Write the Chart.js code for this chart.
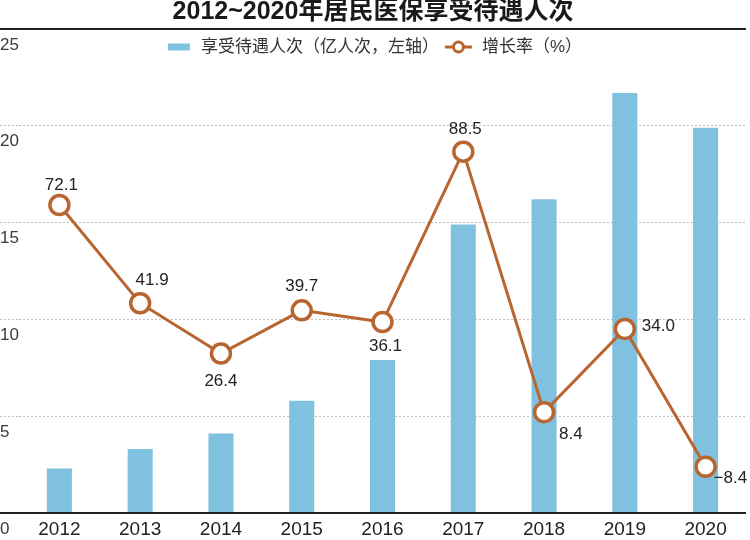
<!DOCTYPE html>
<html>
<head>
<meta charset="utf-8">
<script src="https://cdn.jsdelivr.net/npm/chart.js@4.4.1/dist/chart.umd.min.js"></script>
<style>
  body { margin: 0; background: #fff; }
  #wrap { width: 750px; height: 540px; position: relative; }
</style>
</head>
<body>
<div id="wrap"><canvas id="chart"></canvas></div>
<script>
// Data
const years = ['2012', '2013', '2014', '2015', '2016', '2017', '2018', '2019', '2020'];
const persons = [2.3, 3.3, 4.1, 5.8, 7.9, 14.9, 16.2, 21.7, 19.9]; // 亿人次, left axis
const growth = [72.1, 41.9, 26.4, 39.7, 36.1, 88.5, 8.4, 34.0, -8.4]; // %
const leftTicks = [0, 5, 10, 15, 20, 25];

// where each growth label sits relative to its point (dx, dy, align)
const labelPlacement = [
  [2, -20, 'center'], [12, -23, 'center'], [0, 28, 'center'],
  [0, -24, 'center'], [3, 24, 'center'], [2, -22, 'center'],
  [15, 22, 'left'], [17, -3, 'left'], [8, 12, 'left']
];

const FONT = '"Liberation Sans", "Noto Sans CJK SC", sans-serif';
const BAR_COLOR = '#7fc1de';
const LINE_COLOR = '#b8652f';

// draws the two solid rules, the legend and the growth labels
const overlay = {
  id: 'overlay',
  afterDraw(chart) {
    const ctx = chart.ctx;
    const y = chart.scales.y;
    const area = chart.chartArea;
    ctx.save();

    // title rule (also the 25 grid line) and the zero baseline
    ctx.strokeStyle = '#222';
    ctx.lineWidth = 2;
    ctx.beginPath();
    ctx.moveTo(0, y.getPixelForValue(25));
    ctx.lineTo(chart.width - 4, y.getPixelForValue(25));
    ctx.moveTo(0, y.getPixelForValue(0));
    ctx.lineTo(area.right, y.getPixelForValue(0));
    ctx.stroke();

    // legend
    const ds = chart.data.datasets;
    ctx.font = '17px ' + FONT;
    ctx.textBaseline = 'middle';
    const w1 = ctx.measureText(ds[0].label).width;
    const w2 = ctx.measureText(ds[1].label).width;
    const total = 22 + 11 + w1 + 6 + 27 + 10 + w2;
    let lx = chart.width / 2 - total / 2;
    const ly = 47;
    ctx.fillStyle = BAR_COLOR;
    ctx.fillRect(lx, ly - 3.5, 22, 7);
    lx += 33;
    ctx.fillStyle = '#333';
    ctx.textAlign = 'left';
    ctx.fillText(ds[0].label, lx, ly);
    lx += w1 + 6;
    ctx.strokeStyle = LINE_COLOR;
    ctx.lineWidth = 3;
    ctx.beginPath();
    ctx.moveTo(lx, ly);
    ctx.lineTo(lx + 27, ly);
    ctx.stroke();
    ctx.beginPath();
    ctx.arc(lx + 13.5, ly, 5, 0, Math.PI * 2);
    ctx.fillStyle = '#fff';
    ctx.fill();
    ctx.stroke();
    lx += 37;
    ctx.fillStyle = '#333';
    ctx.fillText(ds[1].label, lx, ly);

    // growth labels
    const meta = chart.getDatasetMeta(1);
    ctx.font = '17px ' + FONT;
    ctx.fillStyle = '#222';
    meta.data.forEach((pt, i) => {
      const p = labelPlacement[i];
      ctx.textAlign = p[2];
      const txt = growth[i].toFixed(1).replace('-', '\u2212');
      ctx.fillText(txt, pt.x + p[0], pt.y + p[1]);
    });
    ctx.restore();
  }
};

new Chart(document.getElementById('chart'), {
  data: {
    labels: years,
    datasets: [
      {
        type: 'bar',
        label: '享受待遇人次（亿人次，左轴）',
        data: persons,
        backgroundColor: BAR_COLOR,
        yAxisID: 'y',
        categoryPercentage: 1,
        barPercentage: 0.31,
        order: 1
      },
      {
        type: 'line',
        label: '增长率（%）',
        data: growth,
        borderColor: LINE_COLOR,
        borderWidth: 3,
        pointRadius: 9.5,
        pointBorderWidth: 3.5,
        pointBackgroundColor: '#fff',
        pointBorderColor: LINE_COLOR,
        tension: 0,
        clip: false,
        yAxisID: 'y1',
        order: 0
      }
    ]
  },
  options: {
    responsive: true,
    maintainAspectRatio: false,
    animation: false,
    layout: { autoPadding: false, padding: { left: 0, right: 4, top: 0, bottom: 0 } },
    plugins: {
      legend: { display: false },
      tooltip: { enabled: false },
      title: {
        display: true,
        text: '2012~2020年居民医保享受待遇人次',
        color: '#1a1a1a',
        font: { family: FONT, size: 25, weight: 'bold', lineHeight: 1.0 },
        padding: { top: 0, bottom: 4 }
      }
    },
    scales: {
      x: {
        grid: { display: false, drawTicks: false },
        border: { display: false },
        afterFit: s => { s.height = 27; },
        ticks: { color: '#222', font: { family: FONT, size: 19, lineHeight: 1.0 }, padding: 7 }
      },
      y: {
        position: 'left',
        min: leftTicks[0],
        max: leftTicks[leftTicks.length - 1],
        afterBuildTicks: s => { s.ticks = leftTicks.map(v => ({ value: v })); },
        afterFit: s => { s.width = 19; s.paddingTop = 0; s.paddingBottom = 0; },
        ticks: {
          crossAlign: 'far',
          padding: 0,
          labelOffset: 16,
          color: '#3a3a3a',
          font: { family: FONT, size: 17 }
        },
        grid: {
          color: c => (c.tick && (c.tick.value === 0 || c.tick.value === 25)) ? 'rgba(0,0,0,0)' : '#bdbdbd',
          tickColor: c => (c.tick && (c.tick.value === 0 || c.tick.value === 25)) ? 'rgba(0,0,0,0)' : '#bdbdbd',
          lineWidth: 1,
          drawTicks: true,
          tickLength: 19,
          tickBorderDash: [2, 2]
        },
        border: { display: false, dash: [2, 2] }
      },
      y1: {
        display: false,
        min: -22.6,
        max: 126.2
      }
    }
  },
  plugins: [overlay]
});
</script>
</body>
</html>
